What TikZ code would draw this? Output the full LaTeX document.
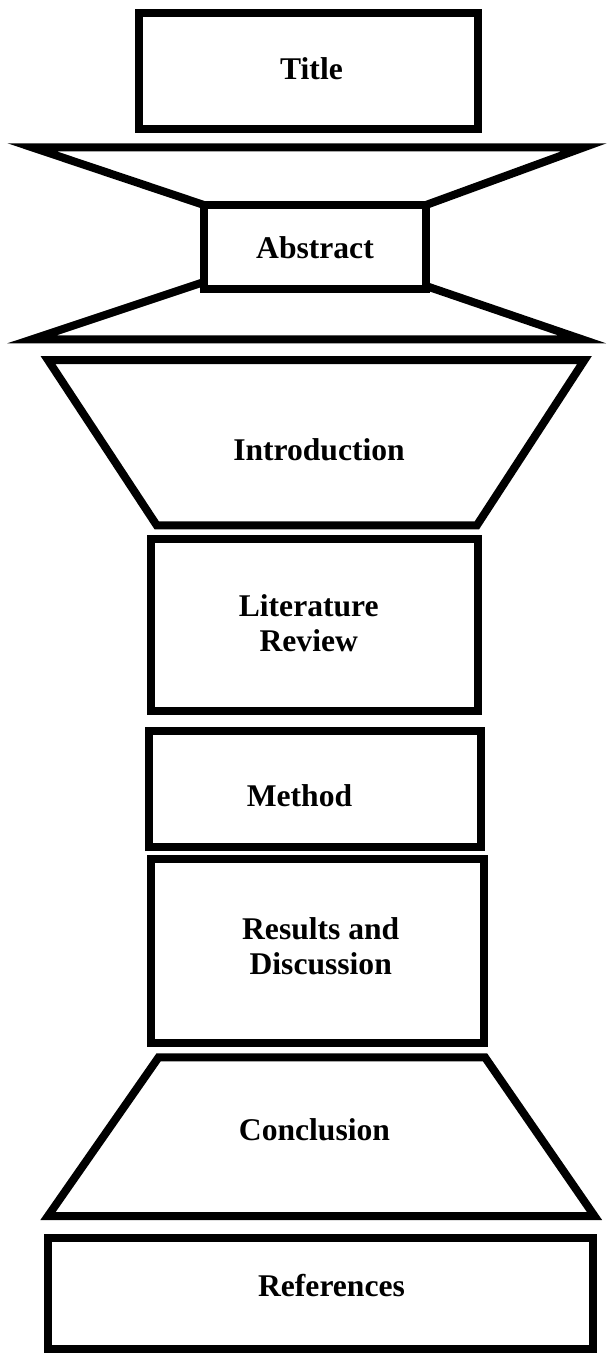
\documentclass[tikz,border=0pt]{standalone}
\usepackage{fontspec}
\setmainfont{Liberation Serif}

\begin{document}
\begin{tikzpicture}[x=0.5pt, y=-0.5pt,
    outline/.style={draw=black, line width=4pt, fill=white},
    caption/.style={font=\fontsize{15.8}{17.8}\selectfont\bfseries, align=center, inner sep=0pt}]
    \useasboundingbox (0,0) rectangle (606,1354);

    % Title
    \draw[outline] (138.5,13.3) rectangle (478.4,128.7);
    \node[caption, anchor=base] (title) at (311.5,80) {Title};

    % Abstract between two funnels
    \draw[outline] (32,147.3) -- (584,147.3) -- (426,205) -- (204,205) -- cycle;
    \draw[outline] (204,282) -- (426,286) -- (582,339.3) -- (32,339.3) -- cycle;
    \draw[outline] (204,205) rectangle (426,289);
    \node[caption, anchor=base] (abstract) at (315,258.5) {Abstract};

    % Introduction
    \draw[outline] (48,360) -- (584.5,360) -- (476.9,525.3) -- (156.7,525.3) -- cycle;
    \node[caption, anchor=base] (intro) at (319,460) {Introduction};

    % Literature review
    \draw[outline] (150.9,539) rectangle (478.4,711);
    \node[caption] (litreview) at (308.75,623) {Literature\\Review};

    % Method
    \draw[outline] (149,731) rectangle (481,847);
    \node[caption, anchor=base] (method) at (299.5,806) {Method};

    % Results and discussion
    \draw[outline] (150.9,859) rectangle (483.8,1043);
    \node[caption] (results) at (320.75,946.4) {Results and\\Discussion};

    % Conclusion
    \draw[outline] (158.6,1057.3) -- (485,1057.3) -- (594.5,1216) -- (48,1216) -- cycle;
    \node[caption, anchor=base] (conclusion) at (314.5,1140) {Conclusion};

    % References
    \draw[outline] (48.4,1238.3) rectangle (593.1,1349.3);
    \node[caption, anchor=base] (references) at (331.5,1296) {References};
\end{tikzpicture}
\end{document}
